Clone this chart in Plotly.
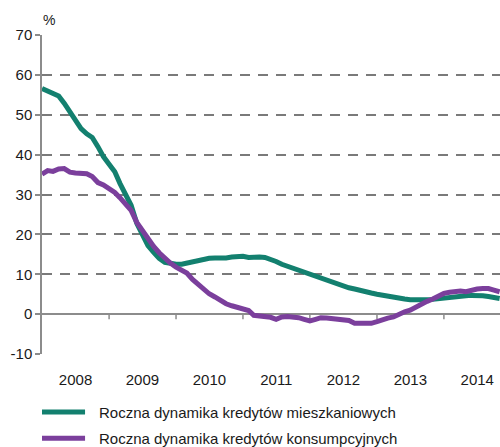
import pandas as pd
import plotly.graph_objects as go

# Monthly observations, January 2008 - November 2014 (annual growth, %)
months = pd.date_range("2008-01-01", periods=83, freq="MS")

mieszkaniowe = [
    56.6, 56.0, 55.3, 54.7, 52.9, 50.8, 48.8, 46.5, 45.2, 44.3, 42.0, 39.5,
    37.6, 35.7, 32.8, 30.0, 27.3, 22.8, 19.8, 17.2, 15.5, 14.0, 13.0, 12.7,
    12.5, 12.5, 12.8, 13.0, 13.3, 13.7, 14.0, 14.1, 14.0, 14.1, 14.3, 14.5,
    14.5, 14.2, 14.4, 14.3, 14.2, 13.8, 13.2, 12.5, 12.0, 11.5, 10.9, 10.4,
    9.9, 9.3, 8.8, 8.3, 7.8, 7.3, 6.9, 6.6, 6.3, 5.9, 5.5, 5.3,
    5.0, 4.7, 4.4, 4.2, 4.0, 3.8, 3.6, 3.5, 3.5, 3.6, 3.7, 3.9,
    4.1, 4.3, 4.4, 4.5, 4.6, 4.7, 4.8, 4.6, 4.4, 4.2, 3.9,
]

konsumpcyjne = [
    35.1, 36.0, 35.8, 36.4, 36.5, 35.6, 35.4, 35.3, 35.2, 34.5, 33.0, 32.4,
    31.5, 30.5, 29.2, 27.5, 26.0, 23.0, 21.0, 18.9, 17.0, 15.4, 14.0, 12.8,
    11.8, 11.0, 10.3, 8.7, 7.4, 6.2, 5.1, 4.3, 3.4, 2.6, 2.1, 1.8,
    1.4, 0.9, -0.3, -0.4, -0.5, -0.8, -1.3, -0.7, -0.6, -0.7, -0.9, -1.3,
    -1.7, -1.3, -0.9, -1.0, -1.2, -1.3, -1.3, -1.6, -2.3, -2.4, -2.5, -2.3,
    -1.9, -1.3, -1.0, -0.7, 0.1, 0.6, 1.0, 1.8, 2.5, 3.2, 3.8, 4.6,
    5.2, 5.5, 5.7, 5.8, 5.6, 6.1, 6.3, 6.4, 6.4, 6.0, 5.6,
]

series_names = [
    "Roczna dynamika kredytów mieszkaniowych",
    "Roczna dynamika kredytów konsumpcyjnych",
]
series_colors = ["#13806f", "#7b3f9c"]

year_labels = ["2008", "2009", "2010", "2011", "2012", "2013", "2014"]
y_ticks = [-10, 0, 10, 20, 30, 40, 50, 60, 70]
y_tick_text = ["-10", "0", "10", "20", "30", "40", "50", "60", "70"]

FONT = "Liberation Sans, Arial, sans-serif"
AXIS_GREY = "#8c8c8c"
TEXT = "#1a1a1a"

fig = go.Figure()
for name, values, color in zip(series_names, [mieszkaniowe, konsumpcyjne], series_colors):
    fig.add_trace(go.Scatter(
        x=months, y=values, mode="lines", name=name,
        line=dict(color=color, width=5),
        showlegend=False,
    ))

# year labels sit mid-year, year boundaries get tick marks on the zero line
mid_years = [f"{y}-07-02" for y in year_labels]
year_starts = [f"{int(y) + 1}-01-01" for y in year_labels]

fig.update_layout(
    width=500, height=447,
    margin=dict(l=42, r=0, t=35, b=93),
    paper_bgcolor="white", plot_bgcolor="white",
    font=dict(family=FONT, size=15, color=TEXT),
    xaxis=dict(
        range=["2008-01-01", "2014-11-03"],
        tickvals=mid_years, ticktext=year_labels,
        ticks="outside", ticklen=12, tickcolor="rgba(0,0,0,0)",
        showgrid=False, zeroline=False, showline=False,
        tickfont=dict(size=15, color=TEXT),
    ),
    yaxis=dict(
        range=[-10, 70], tickvals=y_ticks, ticktext=y_tick_text,
        showline=True, linecolor=AXIS_GREY, linewidth=1.5,
        ticks="outside", ticklen=5, tickcolor=AXIS_GREY, tickwidth=1.5,
        showgrid=True, gridcolor="#7a7a7a", gridwidth=1.5, griddash="10px,8px",
        zeroline=True, zerolinecolor=AXIS_GREY, zerolinewidth=1.5,
        tickfont=dict(size=15, color=TEXT),
    ),
)

for d in year_starts:
    fig.add_shape(
        type="line", xref="x", yref="y", x0=d, x1=d,
        ysizemode="pixel", yanchor=0, y0=0, y1=-5,
        line=dict(color=AXIS_GREY, width=1.5), layer="below",
    )

fig.add_annotation(
    text="%", xref="paper", yref="paper", x=0.015, y=1.0,
    yanchor="bottom", xanchor="center", showarrow=False, yshift=5,
    font=dict(size=14, color=TEXT),
)

# legend drawn below the chart
legend_rows = [-0.182, -0.264]
for name, color, yy in zip(series_names, series_colors, legend_rows):
    fig.add_shape(
        type="line", xref="paper", yref="paper",
        x0=0.0, x1=0.094, y0=yy, y1=yy,
        line=dict(color=color, width=5),
    )
    fig.add_annotation(
        text=name, xref="paper", yref="paper", x=0.12, y=yy,
        xanchor="left", yanchor="middle", showarrow=False,
        font=dict(size=15, color=TEXT),
    )

fig.write_html("out.html")
